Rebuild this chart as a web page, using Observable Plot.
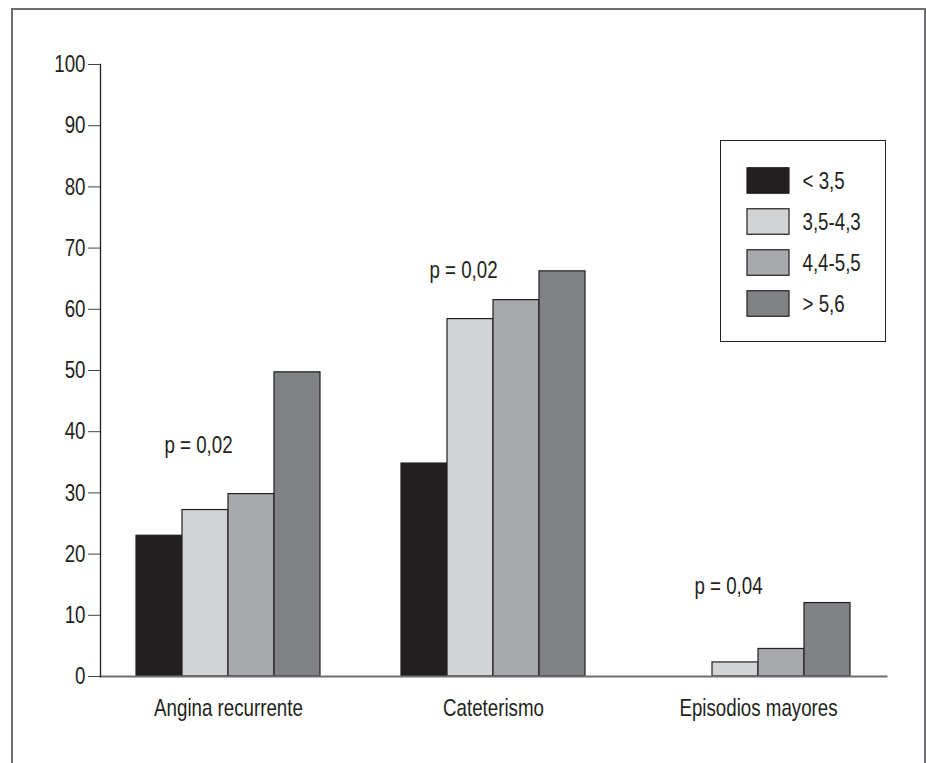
<!DOCTYPE html>
<html>
<head>
<meta charset="utf-8">
<script src="https://cdn.jsdelivr.net/npm/d3@7"></script>
<script src="https://cdn.jsdelivr.net/npm/@observablehq/plot@0.6"></script>
<style>
  html, body { margin: 0; padding: 0; background: #fff; }
  #wrap { position: relative; width: 926px; height: 763px; overflow: hidden; }
  #page-frame { position: absolute; left: 11px; top: 8px; width: 911px; height: 800px;
    border-left: 2px solid #6d6e71; border-top: 2px solid #6d6e71; border-right: 2px solid #6d6e71; }
  #chart { position: absolute; left: 0; top: 0; }
  #legend { position: absolute; left: 720px; top: 140px; border: 1.3px solid #231f20; background: #fff; }
  #legend svg, #chart svg { display: block; }
</style>
</head>
<body>
<div id="wrap">
  <div id="page-frame"></div>
  <div id="chart"></div>
  <div id="legend"></div>
</div>
<script>
// Categories (groups on the x axis)
const groups = ["Angina recurrente", "Cateterismo", "Episodios mayores"];
// Series (legend entries)
const series = ["< 3,5", "3,5-4,3", "4,4-5,5", "> 5,6"];
const colors = ["#231f20", "#d1d3d4", "#a7a9ac", "#808285"];
// Values per group, one array per series
const lt35    = [23.0, 34.8, 0];
const s35_43  = [27.2, 58.4, 2.3];
const s44_55  = [29.8, 61.5, 4.5];
const gt56    = [49.7, 66.2, 12.0];
const seriesValues = [lt35, s35_43, s44_55, gt56];
// Y-axis ticks
const yTicks = [0, 10, 20, 30, 40, 50, 60, 70, 80, 90, 100];
// p-value annotations
const pGroups = ["Angina recurrente", "Cateterismo", "Episodios mayores"];
const pTexts = ["p = 0,02", "p = 0,02", "p = 0,04"];
const pLevels = [37.8, 66.4, 14.8];

const data = [];
series.forEach((s, si) => groups.forEach((g, gi) => data.push({group: g, series: s, value: seriesValues[si][gi]})));
const pLabels = pGroups.map((g, i) => ({group: g, text: pTexts[i], y: pLevels[i]}));

const font = "'Liberation Sans', Arial, sans-serif";
const FS = 24;
const narrow = 0.78;

// condense text horizontally (reference uses a condensed face)
function condense(svg) {
  d3.select(svg).selectAll("text").each(function() {
    const t = this.getAttribute("transform");
    if (t) {
      this.setAttribute("transform", t + ` scale(${narrow},1)`);
    } else {
      const x = +(this.getAttribute("x") || 0), y = +(this.getAttribute("y") || 0);
      this.removeAttribute("x"); this.removeAttribute("y");
      this.setAttribute("transform", `translate(${x},${y}) scale(${narrow},1)`);
    }
  });
}

const chart = Plot.plot({
  width: 926,
  height: 763,
  marginLeft: 100,
  marginRight: 40,
  marginTop: 64,
  marginBottom: 87,
  style: {fontFamily: font, fontSize: FS + "px", color: "#231f20", background: "transparent"},
  fx: {domain: groups, paddingInner: 0.034, paddingOuter: 0, label: null},
  x: {domain: series, paddingInner: 0, paddingOuter: 0.753, axis: null},
  y: {domain: [0, 100], label: null},
  color: {domain: series, range: colors},
  marks: [
    Plot.barY(data.filter(d => d.value > 0), {fx: "group", x: "series", y: "value", fill: "series", stroke: "#231f20", strokeWidth: 1.2}),
    Plot.frame({anchor: "bottom", facet: "super", stroke: "#6d6e71", strokeWidth: 2}),
    Plot.frame({anchor: "left", facet: "super", stroke: "#231f20", strokeWidth: 1.3}),
    Plot.axisY({ticks: yTicks, tickSize: 12, tickPadding: 3, stroke: "#444", fill: "#231f20", fontSize: FS, label: null, tickFormat: d => String(d)}),
    Plot.axisFx({anchor: "bottom", tickSize: 0, tickPadding: 22, fontSize: FS, fill: "#231f20", label: null}),
    Plot.text(pLabels, {fx: "group", x: () => series[1], y: "y", text: "text", dx: -7, fontSize: FS, fill: "#231f20"})
  ]
});
condense(chart);
document.getElementById("chart").appendChild(chart);

const legend = Plot.plot({
  width: 164,
  height: 200,
  margin: 0,
  style: {fontFamily: font, fontSize: FS + "px", color: "#231f20", background: "#fff"},
  x: {type: "band", domain: ["swatch"], range: [26, 68], padding: 0, axis: null},
  y: {type: "band", domain: series, range: [18, 184], padding: 0, axis: null},
  color: {domain: series, range: colors},
  marks: [
    Plot.cell(series, {x: () => "swatch", y: d => d, fill: d => d, stroke: "#231f20", strokeWidth: 1.2, insetTop: 7.75, insetBottom: 7.75}),
    Plot.text(series, {x: () => "swatch", y: d => d, text: d => d, textAnchor: "start", dx: 34, fontSize: FS, fill: "#231f20"})
  ]
});
condense(legend);
document.getElementById("legend").appendChild(legend);
</script>
</body>
</html>
